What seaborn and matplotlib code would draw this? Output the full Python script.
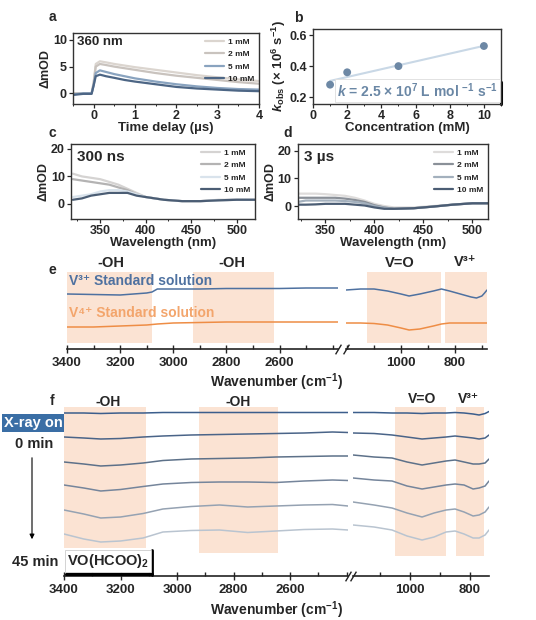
import matplotlib
matplotlib.use('Agg')
import matplotlib.pyplot as plt
import seaborn as sns
import numpy as np
from matplotlib.ticker import MultipleLocator, FixedLocator
from matplotlib.lines import Line2D

sns.set_style('ticks')
plt.rcParams['font.family'] = ['Liberation Sans', 'DejaVu Sans']
plt.rcParams['font.weight'] = 'bold'
plt.rcParams['axes.labelweight'] = 'bold'
plt.rcParams['mathtext.fontset'] = 'custom'
plt.rcParams['mathtext.rm'] = 'Liberation Sans:bold'
plt.rcParams['mathtext.bf'] = 'Liberation Sans:bold'
plt.rcParams['mathtext.it'] = 'Liberation Sans:italic:bold'
plt.rcParams['mathtext.default'] = 'rm'

# ---- data ----
conc_labels = ['1 mM', '2 mM', '5 mM', '10 mM']

# a: kinetics at 360 nm
t_delay = [-0.5, -0.25, -0.05, 0.0, 0.05, 0.15, 0.3, 0.5, 0.75, 1.0, 1.5, 2.0, 2.5, 3.0, 3.5, 4.0]
kin_1mM = [0, 0, 0, 2.0, 5.5, 6.0, 5.8, 5.5, 5.2, 4.9, 4.4, 3.9, 3.4, 3.0, 2.6, 2.3]
kin_2mM = [0, 0, 0, 2.0, 5.0, 5.5, 5.3, 5.0, 4.7, 4.4, 3.8, 3.3, 2.9, 2.5, 2.1, 1.8]
kin_5mM = [-0.2, 0, 0, 1.5, 3.8, 4.3, 4.0, 3.6, 3.2, 2.8, 2.2, 1.7, 1.3, 1.0, 0.8, 0.7]
kin_10mM = [-0.3, -0.1, -0.1, 1.5, 3.2, 3.5, 3.2, 2.9, 2.5, 2.2, 1.7, 1.2, 0.9, 0.7, 0.5, 0.4]

# b: observed rate constants
conc_mM = [1, 2, 5, 10]
k_obs = [0.28, 0.36, 0.40, 0.53]

# c: spectra at 300 ns
wl_c = [320, 330, 340, 350, 360, 370, 380, 390, 400, 410, 420, 440, 460, 480, 500, 520]
c_1mM = [11, 10, 9.5, 9, 8, 7, 5.5, 4, 2.5, 2, 1.5, 1, 1, 1.5, 1.5, 1.5]
c_2mM = [9, 8.5, 8, 7.5, 7, 6, 5, 3.5, 2.5, 2, 1.5, 1, 1, 1.3, 1.5, 1.5]
c_5mM = [2.5, 3, 3.5, 4.5, 5, 5, 4.5, 3.5, 2.5, 2, 1.5, 1, 1, 1.3, 1.5, 1.5]
c_10mM = [1.5, 2, 3, 3.5, 4, 4, 4, 3, 2.5, 2, 1.5, 1, 1, 1.3, 1.5, 1.5]

# d: spectra at 3 us
wl_d = [322, 330, 340, 350, 360, 370, 380, 390, 400, 410, 420, 440, 460, 480, 500, 516]
d_1mM = [4.5, 4.5, 4.5, 4.3, 4, 3.7, 3, 2, 0.8, 0, -0.5, -0.5, 0, 0.5, 1, 1]
d_2mM = [3, 3, 3, 3, 3, 2.7, 2.2, 1.5, 0.3, -0.5, -1, -0.8, -0.2, 0.5, 1, 1]
d_5mM = [1.5, 2, 2, 2, 2, 1.8, 1.5, 1, 0, -0.6, -1, -0.8, -0.2, 0.5, 1, 1]
d_10mM = [0.5, 0.5, 0.6, 0.8, 0.8, 0.8, 0.5, 0.2, -0.5, -1, -1, -0.8, -0.2, 0.5, 1, 1]

# e: standard solutions (a.u.)
wn_e_left = [3400, 3300, 3200, 3100, 3080, 3060, 3000, 2900, 2800, 2700, 2600, 2500, 2380]
wn_e_right = [1204, 1150, 1100, 1050, 1000, 970, 930, 880, 850, 820, 780, 740, 720, 700, 690, 681]
v3_left = [55, 54.5, 54, 56, 57, 60, 60, 60, 60.5, 60.5, 60.5, 61, 61]
v3_right = [59, 60, 60, 58, 55, 53, 55, 58, 60, 58, 55, 52, 51, 53, 56, 59]
v4_left = [22, 22, 23, 24, 24.5, 25, 26, 26.5, 27, 27, 27, 27, 27]
v4_right = [26, 26, 25.5, 24, 21, 19, 20, 23, 25, 26, 26, 26, 26, 26, 26, 26]

# f: time series under X-ray, 0 -> 45 min (a.u., relative to each trace start)
wn_f_left = [3400, 3330, 3270, 3200, 3120, 3050, 2950, 2850, 2750, 2650, 2550, 2450, 2395]
wn_f_right = [1190, 1120, 1060, 1010, 960, 920, 880, 850, 820, 790, 770, 750, 737]
f_left = [
    [0, 0, -0.5, 0, 0, 0.5, 0.5, 0.5, 0.5, 0.5, 0.5, 0.5, 0.5],
    [0, -1, -2, -1.5, 0, 1, 2, 2.5, 3, 3.5, 4, 5, 4.5],
    [0, -2, -4, -3, -1, 1.5, 3, 3.5, 4, 5, 5.5, 6, 6],
    [0, -3, -6, -4.5, -1.5, 1, 2.5, 3, 3, 2.5, 4, 5, 4.5],
    [0, -4, -8, -7, -3.5, 1, 3.5, 5, 3, 4, 5, 5.5, 4],
    [0, -5, -8, -7, -4, 2, 3.5, 4, 1.5, 3, 4.5, 5, 4],
]
f_right = [
    [0.5, 0.5, 0, 0, -0.5, 0, 0, 0.5, 0, -1, -2, -0.5, 1.5],
    [4, 3.5, 2, 0, -2, -1, 0, 1, 0, -1, -2, -1, 2],
    [7, 5, 4, 0, -3, -1, 1, 2, 0, -2, -2, -1, 3],
    [7, 5, 4, -1, -4, -2, 0, 1, 0, -4, -3, -1, 4],
    [8, 5, 2, -3, -7, -3, 0, 1, -2, -6, -5, -2, 3],
    [9, 7, 4, -2, -6, -3, 2, 3, 0, -4, -4, -1, 4],
]
f_offsets = [163, 139, 114, 91, 66, 42]

e_spans_left = [(3400, 3080), (2925, 2620)]
e_spans_right = [(1126, 852), (837, 681)]
f_spans_left = [(3400, 3110), (2922, 2643)]
f_spans_right = [(1050, 880), (847, 753)]

# ---- style ----
W, H = 536, 620
PEACH = '#fbe3d3'
BLUE = '#4e71a0'
ORANGE = '#ee8d45'
colors_a = ['#dbd5cf', '#c9c3be', '#89a3bf', '#4d6685']
colors_c = ['#d5d3d2', '#b4b3b3', '#d9e3ec', '#4b5d74']
colors_d = ['#dedcdb', '#8a9098', '#a3b0bd', '#4b5d74']
colors_f = ['#3c5e8c', '#4a6488', '#5d7189', '#75859b', '#95a2b2', '#b9c4d0']
V3 = 'V³⁺'
V4 = 'V⁴⁺'


def rect(l, t, r, b):
    return [l / W, 1 - b / H, (r - l) / W, (b - t) / H]


def fpos(x, y):
    return x / W, 1 - y / H


def ftext(x, y, s, **kw):
    kw.setdefault('ha', 'center')
    kw.setdefault('va', 'center')
    fig.text(*fpos(x, y), s, **kw)


def style_box(ax):
    for sp in ax.spines.values():
        sp.set_linewidth(1.0)
        sp.set_color('#333333')
    ax.tick_params(which='major', direction='out', length=3, width=0.9, labelsize=9, pad=1.5)
    ax.tick_params(which='minor', direction='out', length=1.5, width=0.7)


def small_legend(ax):
    ax.legend(loc='upper right', frameon=False, fontsize=6, handlelength=2.2,
              labelspacing=0.55, borderaxespad=0.2, handletextpad=0.5)


fig = plt.figure(figsize=(W / 100, H / 100), dpi=100)

# ---- panel a ----
ax_a = fig.add_axes(rect(73, 33, 259, 104))
for vals, lab, col in zip([kin_1mM, kin_2mM, kin_5mM, kin_10mM], conc_labels, colors_a):
    sns.lineplot(x=t_delay, y=vals, ax=ax_a, color=col, lw=1.6, label=lab)
ax_a.set_xlim(-0.5, 4)
ax_a.set_ylim(-2, 11.3)
ax_a.xaxis.set_major_locator(MultipleLocator(1))
ax_a.xaxis.set_minor_locator(MultipleLocator(0.5))
ax_a.yaxis.set_major_locator(MultipleLocator(5))
style_box(ax_a)
ax_a.set_xlabel('Time delay (µs)', fontsize=9.5, labelpad=0)
ax_a.set_ylabel('ΔmOD', fontsize=9, labelpad=1)
ax_a.text(0.02, 0.88, '360 nm', transform=ax_a.transAxes, fontsize=9.5, va='center')
small_legend(ax_a)

# ---- panel b ----
ax_b = fig.add_axes(rect(313, 29, 501, 104))
sns.regplot(x=conc_mM, y=k_obs, ax=ax_b, ci=None, scatter=False, truncate=True,
            line_kws=dict(color='#c9d8e6', lw=1.5))
sns.scatterplot(x=conc_mM, y=k_obs, ax=ax_b, color='#6d88a5', s=32, edgecolor='none', zorder=3)
ax_b.set_xlim(0, 11)
ax_b.set_ylim(0.155, 0.64)
ax_b.xaxis.set_major_locator(MultipleLocator(2))
ax_b.xaxis.set_minor_locator(MultipleLocator(1))
ax_b.yaxis.set_major_locator(MultipleLocator(0.2))
style_box(ax_b)
ax_b.set_xlabel('Concentration (mM)', fontsize=9.5, labelpad=0)
ax_b.set_ylabel(r'$\mathit{k}_{\mathrm{obs}}$ (× 10$^{6}$ s$^{-1}$)', fontsize=9.5, labelpad=1)
ax_b.text(0.985, 0.06, r'$\mathit{k}$ = 2.5 × 10$^{7}$ L mol $^{-1}$ s$^{-1}$', transform=ax_b.transAxes,
          ha='right', va='bottom', fontsize=10, color='#6a87a5',
          bbox=dict(boxstyle='square,pad=0.15', facecolor='white', edgecolor='#dddddd', lw=0.6))
ax_b.plot([1.0, 1.0], [0.0, 0.3], transform=ax_b.transAxes, color='black', lw=2.2, clip_on=False)

# ---- panels c, d ----
ax_c = fig.add_axes(rect(71, 144, 255, 219))
ax_d = fig.add_axes(rect(298, 144, 488, 219))
for ax, wl, series, cols, lims, tag in [
        (ax_c, wl_c, [c_1mM, c_2mM, c_5mM, c_10mM], colors_c, (318, 520, -5.5, 21.8), '300 ns'),
        (ax_d, wl_d, [d_1mM, d_2mM, d_5mM, d_10mM], colors_d, (322, 516, -4.7, 22.5), '3 µs')]:
    for vals, lab, col in zip(series, conc_labels, cols):
        sns.lineplot(x=wl, y=vals, ax=ax, color=col, lw=1.6, label=lab)
    ax.set_xlim(lims[0], lims[1])
    ax.set_ylim(lims[2], lims[3])
    ax.xaxis.set_major_locator(MultipleLocator(50))
    ax.xaxis.set_minor_locator(MultipleLocator(25))
    ax.yaxis.set_major_locator(MultipleLocator(10))
    style_box(ax)
    ax.set_xlabel('Wavelength (nm)', fontsize=9.5, labelpad=0)
    ax.set_ylabel('ΔmOD', fontsize=9, labelpad=1)
    ax.text(0.03, 0.83, tag, transform=ax.transAxes, fontsize=11, va='center')
    small_legend(ax)


# ---- broken wavenumber axes ----
def style_broken(ax_l, ax_r, left_ticks, right_ticks):
    for ax in (ax_l, ax_r):
        for s in ('left', 'top', 'right'):
            ax.spines[s].set_visible(False)
        ax.spines['bottom'].set_linewidth(1.2)
        ax.spines['bottom'].set_color('#222222')
        ax.set_yticks([])
        ax.set_xlabel('')
        ax.set_ylabel('')
        ax.tick_params(which='major', direction='inout', length=6, width=1, labelsize=9.5, pad=3)
        ax.tick_params(which='minor', direction='in', length=3, width=1)
        ax.xaxis.set_minor_locator(MultipleLocator(100))
        ax.patch.set_alpha(0)
    ax_l.xaxis.set_major_locator(FixedLocator(left_ticks))
    ax_r.xaxis.set_major_locator(FixedLocator(right_ticks))
    mk = dict(marker=[(-0.6, -1), (0.6, 1)], markersize=7, linestyle='none',
              color='#222222', mew=1, clip_on=False)
    ax_l.plot([1.0], [0.0], transform=ax_l.transAxes, **mk)
    ax_r.plot([0.0], [0.0], transform=ax_r.transAxes, **mk)


# ---- panel e ----
ax_e1 = fig.add_axes(rect(67, 255, 338, 349))
ax_e2 = fig.add_axes(rect(346, 255, 487, 349))
for lo, hi in e_spans_left:
    ax_e1.axvspan(lo, hi, ymin=0.064, ymax=0.82, color=PEACH, lw=0)
for lo, hi in e_spans_right:
    ax_e2.axvspan(lo, hi, ymin=0.064, ymax=0.82, color=PEACH, lw=0)
sns.lineplot(x=wn_e_left, y=v3_left, ax=ax_e1, color=BLUE, lw=1.1)
sns.lineplot(x=wn_e_left, y=v4_left, ax=ax_e1, color=ORANGE, lw=1.1)
sns.lineplot(x=wn_e_right, y=v3_right, ax=ax_e2, color=BLUE, lw=1.1)
sns.lineplot(x=wn_e_right, y=v4_right, ax=ax_e2, color=ORANGE, lw=1.1)
ax_e1.set_xlim(3400, 2380)
ax_e2.set_xlim(1204, 681)
for ax in (ax_e1, ax_e2):
    ax.set_ylim(0, 94)
style_broken(ax_e1, ax_e2, [3400, 3200, 3000, 2800, 2600], [1000, 800])

ftext(52, 270, 'e', fontsize=10)
ftext(111, 263, '-OH', fontsize=10.5)
ftext(232, 263, '-OH', fontsize=10.5)
ftext(400, 263, 'V=O', fontsize=10.5)
ftext(465, 262, V3, fontsize=10.5)
ftext(69, 281, V3 + ' Standard solution', ha='left', fontsize=10, color=BLUE)
ftext(69, 313, V4 + ' Standard solution', ha='left', fontsize=10, color='#f3a56c')
ftext(277, 382, 'Wavenumber (cm$^{-1}$)', fontsize=10)

# ---- panel f ----
ax_f1 = fig.add_axes(rect(64, 395, 348, 576))
ax_f2 = fig.add_axes(rect(353, 395, 489, 576))
for (lo, hi), ymin in zip(f_spans_left, [0.155, 0.127]):
    ax_f1.axvspan(lo, hi, ymin=ymin, ymax=0.934, color=PEACH, lw=0)
for lo, hi in f_spans_right:
    ax_f2.axvspan(lo, hi, ymin=0.11, ymax=0.934, color=PEACH, lw=0)
for vl, vr, off, col in zip(f_left, f_right, f_offsets, colors_f):
    sns.lineplot(x=wn_f_left, y=np.array(vl) + off, ax=ax_f1, color=col, lw=1.1)
    sns.lineplot(x=wn_f_right, y=np.array(vr) + off, ax=ax_f2, color=col, lw=1.1)
ax_f1.set_xlim(3400, 2395)
ax_f2.set_xlim(1190, 737)
for ax in (ax_f1, ax_f2):
    ax.set_ylim(0, 181)
style_broken(ax_f1, ax_f2, [3400, 3200, 3000, 2800, 2600], [1000, 800])

ftext(52, 401, 'f', fontsize=10)
ftext(108, 402, '-OH', fontsize=10)
ftext(238, 402, '-OH', fontsize=10)
ftext(422, 399, 'V=O', fontsize=10)
ftext(468, 399, V3, fontsize=10)
ftext(277, 610, 'Wavenumber (cm$^{-1}$)', fontsize=10)
ftext(33, 423, 'X-ray on', fontsize=10.5, color='white',
      bbox=dict(boxstyle='square,pad=0.12', facecolor='#3a6ea5', edgecolor='none'))
ftext(34, 444, '0 min', fontsize=10.5)
ftext(35, 562, '45 min', fontsize=10.5)
fig.patches.append(matplotlib.patches.FancyArrowPatch(
    fpos(32, 455), fpos(32, 542), transform=fig.transFigure, arrowstyle='-|>',
    mutation_scale=7, color='black', lw=0.8))
ftext(67, 561, 'VO(HCOO)$_{2}$', ha='left', fontsize=10.5,
      bbox=dict(boxstyle='square,pad=0.12', facecolor='white', edgecolor='#cccccc', lw=0.6))
fig.add_artist(Line2D([66 / W, 152 / W], [1 - 574 / H, 1 - 574 / H], color='black', lw=2.2))
fig.add_artist(Line2D([152 / W, 152 / W], [1 - 550 / H, 1 - 575 / H], color='black', lw=2.0))

# panel letters
ftext(52, 17, 'a', fontsize=10)
ftext(298, 18, 'b', fontsize=10)
ftext(52, 133, 'c', fontsize=10)
ftext(288, 133, 'd', fontsize=10)

fig.savefig('out.png', dpi=100)
